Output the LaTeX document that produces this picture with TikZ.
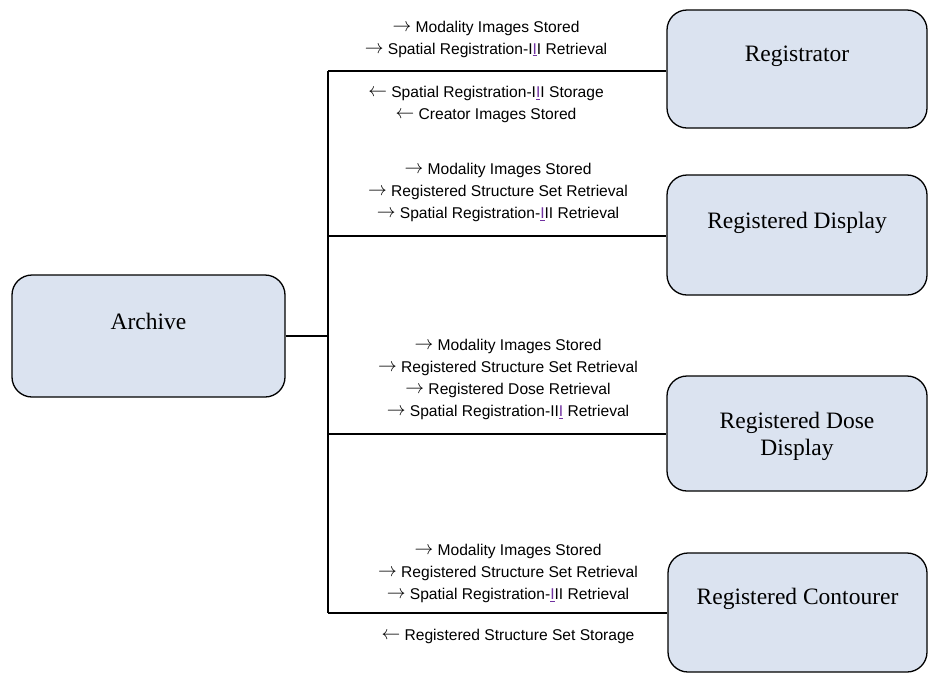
\documentclass[tikz,border=0pt]{standalone}
\usepackage{fontspec}
\setmainfont{Liberation Serif}
\newfontfamily\labfont{Liberation Sans}
\definecolor{boxblue}{RGB}{219,227,240}
\definecolor{ulcol}{RGB}{112,48,160}
\newcommand\mkI[1]{\textcolor{ulcol}{\underline{#1}}}
\newcommand\ra{\smash{\raisebox{0.6pt}{\scalebox{1.3}[1.35]{$\rightarrow$}}}}
\newcommand\la{\smash{\raisebox{0.6pt}{\scalebox{1.3}[1.35]{$\leftarrow$}}}}
\begin{document}
\begin{tikzpicture}[x=1pt,y=-1pt,
  box/.style={draw=black, line width=1.3pt, fill=boxblue, rounded corners=20pt, inner sep=0pt},
  boxtext/.style={font=\fontsize{23.5}{27}\selectfont, align=center, inner sep=0pt},
  lab/.style={font=\labfont\fontsize{15.6}{22}\selectfont, align=center, inner sep=0pt},
  conn/.style={line width=1.5pt, draw=black}]
\useasboundingbox (0,0) rectangle (928,673);

% boxes
\node[box, minimum width=273pt, minimum height=122pt] (arch) at (148.5,336) {};
\node[box, minimum width=260pt, minimum height=118pt] (reg)  at (797,69) {};
\node[box, minimum width=260pt, minimum height=120pt] (disp) at (797,235) {};
\node[box, minimum width=260pt, minimum height=115pt] (dose) at (797,433.5) {};
\node[box, minimum width=259pt, minimum height=119pt] (cont) at (797.5,612.5) {};

% box texts
\node[boxtext] (archt) at (148.5,321) {Archive};
\node[boxtext] (regt)  at (797,56) {Registrator};
\node[boxtext] (dispt) at (797,223) {Registered Display};
\node[boxtext] (doset) at (797,436) {Registered Dose\\Display};
\node[boxtext] (contt) at (797.5,599) {Registered Contourer};

% connectors
\coordinate (j0) at (328,336);
\coordinate (t1) at (328,71);
\coordinate (t2) at (328,236);
\coordinate (t3) at (328,434);
\coordinate (t4) at (328,613);
\draw[conn] (arch.east |- j0) -- (j0);
\draw[conn] (t1) -- (t4);
\draw[conn] (t1) -- (t1 -| reg.west);
\draw[conn] (t2) -- (t2 -| disp.west);
\draw[conn] (t3) -- (t3 -| dose.west);
\draw[conn] (t4) -- (t4 -| cont.west);

% labels
\node[lab] (l1a) at (486,39) {\ra\ Modality Images Stored\\\ra\ Spatial Registration-I\mkI{I}I Retrieval};
\node[lab] (l1b) at (486,104.5) {\la\ Spatial Registration-I\mkI{I}I Storage\\\la\ Creator Images Stored};
\node[lab] (l2a) at (498,192.5) {\ra\ Modality Images Stored\\\ra\ Registered Structure Set Retrieval\\\ra\ Spatial Registration-\mkI{I}II Retrieval};
\node[lab] (l3a) at (508,379.5) {\ra\ Modality Images Stored\\\ra\ Registered Structure Set Retrieval\\\ra\ Registered Dose Retrieval\\\ra\ Spatial Registration-II\mkI{I} Retrieval};
\node[lab] (l4a) at (508,573.5) {\ra\ Modality Images Stored\\\ra\ Registered Structure Set Retrieval\\\ra\ Spatial Registration-\mkI{I}II Retrieval};
\node[lab] (l4b) at (508,636) {\la\ Registered Structure Set Storage};
\end{tikzpicture}
\end{document}
